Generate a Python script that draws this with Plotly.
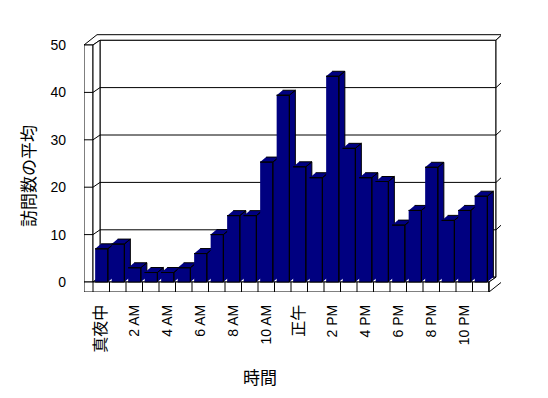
import plotly.graph_objects as go

# ---- data ----
hours = list(range(24))
visits = [7, 8, 3, 2, 2, 3, 6, 10, 14, 14, 25.3, 39.4,
          24.3, 22, 43.4, 28.2, 22, 21.2, 12, 15.1, 24.2, 13, 15.1, 18.1]
tick_pos = [0, 2, 4, 6, 8, 10, 12, 14, 16, 18, 20, 22]
tick_labels = ["真夜中", "2 AM", "4 AM", "6 AM", "8 AM", "10 AM",
               "正午", "2 PM", "4 PM", "6 PM", "8 PM", "10 PM"]
y_ticks = [0, 10, 20, 30, 40, 50]
x_title = "時間"
y_title = "訪問数の平均"

# ---- geometry (styles) ----
CAT_PX = 16.5          # pixels per category
UNIT_PX = 4.74         # pixels per value unit
BAR_L, BAR_R = -0.37, 0.40
BDX, BDY = 6 / CAT_PX, 5 / UNIT_PX           # bar depth
WDX, WDY = 7 / CAT_PX, 4.8 / UNIT_PX         # wall front plane depth
ODX, ODY = 13 / CAT_PX, 10.3 / UNIT_PX       # outer back depth
SLAB = 9 / CAT_PX                            # left wall thickness
FLOOR = 10 / UNIT_PX                         # floor thickness
NAVY = "#000080"
FONT = "Liberation Sans, Arial, Noto Sans CJK JP"
PAGE_OFF = 8   # default page body margin
ML, MT, PW, PH = 84, 34, 417, 258

n = len(hours)
xl, xr = -0.5, n - 0.5
top = max(y_ticks)

fig = go.Figure()

# bars (3D: side, top, front), drawn left to right
for i, v in zip(hours, visits):
    a, b = i + BAR_L, i + BAR_R
    xs = [b, b, b + BDX, b + BDX, None,
          a, b, b + BDX, a + BDX, None,
          a, b, b, a]
    ys = [0, v, v + BDY, BDY, None,
          v, v, v + BDY, v + BDY, None,
          0, 0, v, v]
    fig.add_trace(go.Scatter(x=xs, y=ys, mode="lines", fill="toself",
                             fillcolor=NAVY, line=dict(color="black", width=1),
                             hoverinfo="skip", showlegend=False))

shapes = []
L = dict(color="black", width=1)


def poly(pts, fill="white"):
    d = "M " + " L ".join(f"{x},{y}" for x, y in pts) + " Z"
    shapes.append(dict(type="path", path=d, xref="x", yref="y",
                       fillcolor=fill, line=L, layer="below"))


def line(pts):
    d = "M " + " L ".join(f"{x},{y}" for x, y in pts)
    shapes.append(dict(type="path", path=d, xref="x", yref="y",
                       line=L, layer="below"))


xo = xl - SLAB
# back wall
poly([(xl + WDX, WDY), (xr + WDX, WDY), (xr + WDX, top + WDY), (xl + WDX, top + WDY)])
# top face (slab + back wall)
poly([(xo, top), (xl, top), (xl + WDX, top + WDY), (xr + WDX, top + WDY),
      (xr + ODX, top + ODY), (xo + ODX, top + ODY)])
# left slab front and inner faces
poly([(xo, 0), (xl, 0), (xl, top), (xo, top)])
poly([(xl, 0), (xl + WDX, WDY), (xl + WDX, top + WDY), (xl, top)])
# floor top and front
poly([(xl, 0), (xr, 0), (xr + WDX, WDY), (xl + WDX, WDY)])
poly([(xo, -FLOOR), (xr, -FLOOR), (xr, 0), (xo, 0)])
# right side
poly([(xr, 0), (xr, -FLOOR), (xr + ODX, -FLOOR + ODY), (xr + ODX, top + ODY),
      (xr + WDX, top + WDY), (xr + WDX, WDY)])
# gridlines
for v in y_ticks[1:-1]:
    line([(xo, v), (xl, v), (xl + WDX, v + WDY), (xr + WDX, v + WDY),
          (xr + ODX, v + ODY)])
# floor category dividers
for k in range(n + 1):
    line([(xl + k, -FLOOR), (xl + k, 0)])

fig.update_layout(shapes=shapes)


def lab(t):
    if any(ord(c) > 0x2000 for c in t):
        return f"<span style='font-size:16px'>{t}</span>"
    return t


fig.update_xaxes(range=[xo, xl + (ML + PW - 93) / CAT_PX], tickmode="array",
                 tickvals=tick_pos, ticktext=[lab(t) for t in tick_labels],
                 tickangle=-90, showgrid=False, zeroline=False, showline=False,
                 ticks="", ticklabelstandoff=9,
                 tickfont=dict(family=FONT, size=14, color="black"))
fig.update_yaxes(range=[-FLOOR, (282 - MT) / UNIT_PX], tickmode="array",
                 tickvals=y_ticks, showgrid=False, zeroline=False,
                 showline=False, ticks="", ticklabelstandoff=17,
                 tickfont=dict(family=FONT, size=14, color="black"))

fig.update_layout(
    width=548, height=398,
    margin=dict(l=ML - PAGE_OFF, r=548 - (ML - PAGE_OFF) - PW,
                t=MT - PAGE_OFF, b=398 - (MT - PAGE_OFF) - PH, pad=0),
    plot_bgcolor="white", paper_bgcolor="white",
    hovermode=False,
    annotations=[
        dict(text=x_title, xref="paper", yref="paper", x=(260 - ML) / PW,
             y=-(376 - 292) / PH, xanchor="center", yanchor="middle",
             showarrow=False,
             font=dict(family="Noto Sans CJK JP", size=17, color="black")),
        dict(text=y_title, xref="paper", yref="paper", x=-(ML - 27) / PW,
             y=(292 - 176) / PH, xanchor="center", yanchor="middle",
             showarrow=False, textangle=-90,
             font=dict(family="Noto Sans CJK JP", size=17, color="black")),
    ],
)

fig.write_html("out.html")
